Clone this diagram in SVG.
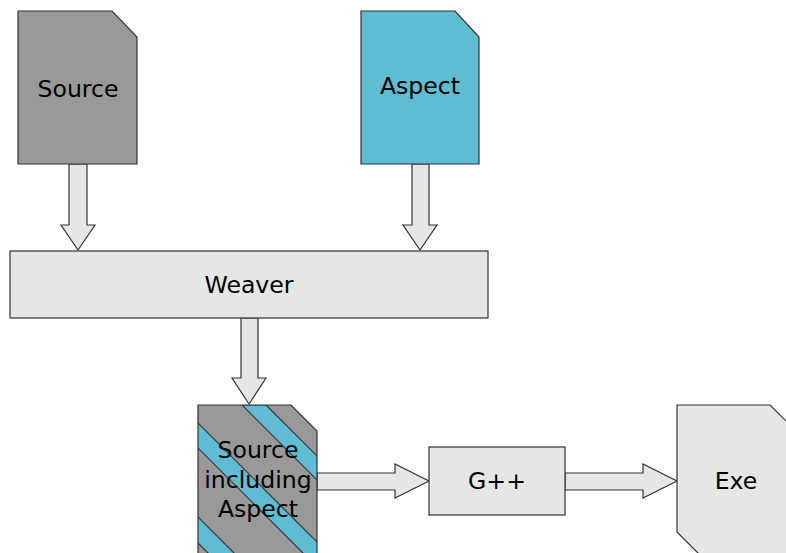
<svg xmlns="http://www.w3.org/2000/svg" width="786" height="553" viewBox="0 0 786 553">
<style>
.t{font-family:"DejaVu Sans",sans-serif;font-size:23.6px;fill:#000;text-anchor:middle;dominant-baseline:central}
.s{stroke:#333;stroke-width:1.2;stroke-linejoin:miter}
.g{fill:#999999}
.b{fill:#5fbcd3}
.l{fill:#e6e6e6}
</style>
<defs>
<clipPath id="cp"><polygon points="198,405 291,405 317,431 317,560 198,560"/></clipPath>
</defs>
<rect width="786" height="553" fill="#fff"/>
<g id="connectors">
<polygon class="s l" points="69,164 87,164 87,225 95,225 78,250 61,225 69,225"/>
<polygon class="s l" points="412,164 429,164 429,225 437,225 420,250 403,225 412,225"/>
<polygon class="s l" points="241,318 258,318 258,378 266,378 249,404 232,378 241,378"/>
<polygon class="s l" points="317,473 395,473 395,464 429,481 395,498 395,490 317,490"/>
<polygon class="s l" points="565,473 643,473 643,464 677,481 643,498 643,490 565,490"/>
</g>
<g id="source">
<polygon class="s g" points="18,11 112,11 137,37 137,164 18,164"/>
<text class="t" x="78" y="89">Source</text>
</g>
<g id="aspect">
<polygon class="s b" points="361,11 455,11 479,37 479,164 361,164"/>
<text class="t" x="420" y="86">Aspect</text>
</g>
<g id="weaver">
<rect class="s l" x="10" y="251" width="478" height="67"/>
<text class="t" x="249" y="285">Weaver</text>
</g>
<g id="source-including-aspect">
<polygon class="g" points="198,405 291,405 317,431 317,560 198,560"/>
<g clip-path="url(#cp)">
<polygon class="s b" points="242,405 266,405 466,605 442,605"/>
<polygon class="s b" points="180,405 180,430 380,630 380,605"/>
<polygon class="s b" points="180,499 180,525 380,725 380,699"/>
</g>
<polygon class="s" fill="none" points="198,405 291,405 317,431 317,560 198,560"/>
<text class="t" x="258" y="450">Source</text>
<text class="t" x="258" y="480">including</text>
<text class="t" x="258" y="509">Aspect</text>
</g>
<g id="gpp">
<rect class="s l" x="429" y="447" width="136" height="68"/>
<text class="t" x="497" y="481">G++</text>
</g>
<g id="exe">
<polygon class="s l" points="677,405 770,405 800,435 800,570 715,570 677,532"/>
<text class="t" x="736" y="481">Exe</text>
</g>
</svg>
